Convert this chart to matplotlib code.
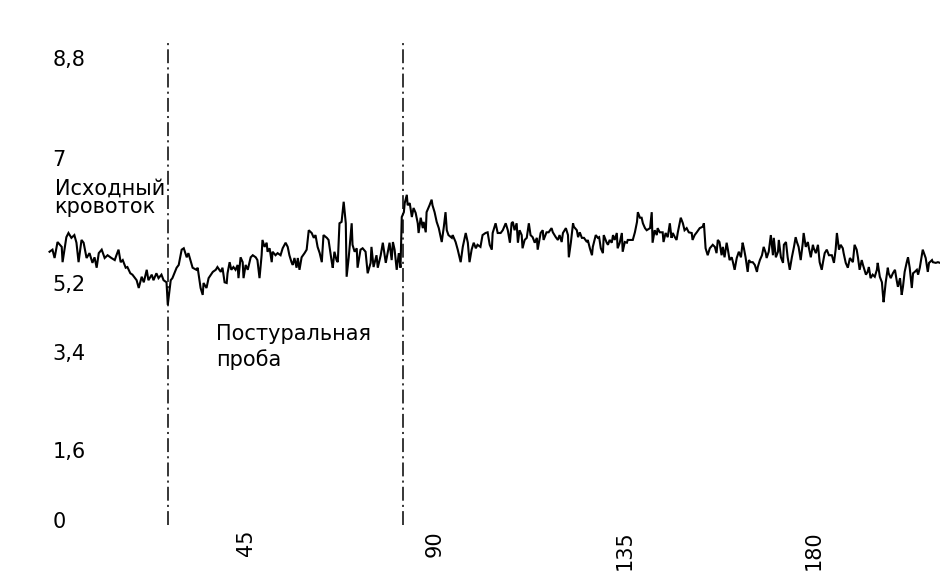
import numpy as np
import matplotlib
matplotlib.use("Agg")
import matplotlib.pyplot as plt
from matplotlib.ticker import FixedLocator, FixedFormatter

# Blood-flow trace: time (s) and flow values
time_s = [
    -1.6, -0.9, -0.4, 0.3, 1.3, 1.5, 2.4, 2.9, 3.6, 4.3, 4.8, 5.3, 6.0, 6.5, 7.2, 7.9,
    8.6, 9.1, 9.6, 10.1, 10.8, 11.5, 12.2, 13.1, 13.9, 14.3, 14.8, 15.3, 15.8, 16.5,
    16.9, 17.6, 18.1, 19.1, 19.6, 20.3, 20.8, 21.5, 21.9, 22.7, 23.1, 23.8, 24.3, 25.0,
    25.5, 26.2, 26.5, 27.2, 27.6, 28.6, 29.1, 29.8, 30.3, 31.0, 31.4, 32.4, 33.3, 33.6,
    34.3, 34.8, 35.0, 35.7, 36.2, 37.2, 37.9, 38.3, 39.1, 39.5, 40.0, 40.5, 40.7, 41.2,
    41.6, 42.1, 42.6, 43.1, 43.3, 43.8, 44.3, 44.5, 45.0, 45.5, 46.2, 46.7, 47.4, 47.8,
    48.3, 48.8, 49.0, 49.5, 50.0, 50.2, 50.7, 51.2, 51.4, 52.1, 52.6, 53.3, 53.8, 54.5,
    55.0, 55.4, 55.9, 56.2, 56.6, 57.1, 57.4, 57.8, 58.3, 59.0, 59.5, 60.0, 60.7, 61.2,
    61.6, 62.1, 62.6, 63.1, 63.5, 64.3, 64.7, 65.4, 65.7, 66.1, 66.6, 66.9, 67.3, 67.8,
    68.3, 68.8, 69.0, 69.5, 70.2, 70.4, 70.9, 71.4, 71.6, 72.3, 72.8, 73.5, 74.0, 74.7,
    74.9, 75.4, 76.1, 76.4, 77.1, 77.6, 78.3, 78.8, 79.2, 79.7, 80.0, 80.4, 80.9, 81.4,
    81.8, 82.1, 82.6, 82.8, 83.3, 83.5, 84.0, 84.5, 84.9, 85.4, 85.9, 86.1, 86.6, 87.1,
    87.3, 87.8, 88.0, 88.7, 89.2, 89.4, 89.9, 90.4, 90.9, 91.6, 92.1, 92.5, 92.8, 93.2,
    94.0, 94.2, 94.9, 95.4, 96.1, 96.6, 97.3, 97.8, 98.2, 98.7, 99.2, 99.7, 100.1, 100.8,
    101.3, 102.0, 102.5, 103.0, 103.5, 103.7, 104.4, 104.9, 105.6, 106.1, 106.8, 107.3,
    107.8, 108.2, 108.5, 108.9, 109.4, 109.7, 110.1, 110.6, 110.8, 111.3, 111.8, 112.3,
    112.7, 113.2, 113.7, 114.2, 114.4, 115.1, 115.6, 115.8, 116.5, 117.0, 117.7, 118.0,
    118.7, 119.2, 119.6, 120.1, 120.4, 121.1, 121.6, 121.8, 122.3, 122.8, 123.0, 123.7,
    124.0, 124.4, 124.9, 125.4, 126.1, 126.3, 126.8, 127.3, 127.5, 128.2, 128.7, 129.0,
    129.4, 129.9, 130.1, 130.8, 131.1, 131.5, 132.0, 132.3, 132.7, 133.2, 133.4, 133.9,
    134.4, 134.6, 135.1, 135.6, 135.8, 136.3, 137.0, 137.5, 138.0, 138.2, 138.7, 139.1,
    139.4, 139.9, 140.3, 141.1, 141.5, 141.7, 142.2, 142.7, 142.9, 143.4, 144.1, 144.3,
    144.8, 145.3, 145.8, 146.2, 146.5, 147.0, 147.4, 147.7, 148.4, 148.9, 149.3, 149.8,
    150.3, 151.0, 151.2, 151.7, 152.2, 152.9, 153.6, 153.9, 154.3, 154.8, 155.3, 156.0,
    156.5, 156.9, 157.2, 157.6, 158.1, 158.4, 158.8, 159.3, 159.6, 160.0, 160.5, 160.8,
    161.2, 161.7, 162.2, 162.7, 163.1, 163.4, 163.8, 164.3, 164.6, 165.0, 165.5, 166.0,
    166.5, 166.7, 167.2, 167.7, 168.1, 168.6, 168.8, 169.3, 169.8, 170.3, 170.5, 171.0,
    171.5, 171.7, 172.2, 172.7, 172.9, 173.4, 173.8, 174.3, 174.8, 175.3, 175.7, 176.0,
    176.4, 176.9, 177.4, 177.6, 178.1, 178.6, 178.8, 179.3, 179.8, 180.0, 180.5, 181.0,
    181.4, 181.9, 182.2, 182.6, 183.1, 183.6, 184.3, 184.8, 185.2, 185.5, 186.0, 186.4,
    186.9, 187.1, 187.6, 188.1, 188.6, 189.3, 189.7, 190.2, 190.5, 190.9, 191.4, 191.7,
    192.4, 192.8, 193.1, 193.5, 194.0, 194.5, 195.0, 195.2, 195.7, 196.2, 196.4, 196.6,
    197.1, 197.6, 197.8, 198.3, 198.8, 199.3, 199.7, 200.0, 200.5, 200.9, 201.2, 201.6,
    202.1, 202.4, 202.8, 203.3, 203.6, 204.0, 204.5, 204.8, 205.2, 205.9, 206.2, 206.6,
    207.1, 207.4, 208.1, 208.3, 209.0, 209.5, 210.0,
]
flow = [
    5.65, 5.68, 5.56, 5.79, 5.72, 5.50, 5.86, 5.92, 5.85, 5.89, 5.78, 5.50, 5.82, 5.78, 5.56, 5.63,
    5.49, 5.57, 5.42, 5.63, 5.68, 5.56, 5.60, 5.56, 5.53, 5.60, 5.68, 5.50, 5.53, 5.42,
    5.43, 5.34, 5.32, 5.24, 5.07, 5.29, 5.21, 5.39, 5.24, 5.32, 5.24, 5.34, 5.27, 5.32,
    5.24, 5.21, 4.63, 5.24, 5.27, 5.42, 5.46, 5.68, 5.70, 5.57, 5.63, 5.42, 5.39, 5.42,
    5.07, 4.89, 5.20, 5.07, 5.27, 5.36, 5.39, 5.43, 5.36, 5.42, 5.21, 5.20, 5.34, 5.50,
    5.39, 5.43, 5.39, 5.46, 5.27, 5.57, 5.50, 5.27, 5.46, 5.39, 5.57, 5.60, 5.57, 5.53,
    5.27, 5.60, 5.82, 5.72, 5.78, 5.65, 5.70, 5.50, 5.65, 5.60, 5.63, 5.60, 5.70, 5.78,
    5.72, 5.60, 5.50, 5.46, 5.56, 5.42, 5.56, 5.39, 5.57, 5.63, 5.68, 5.96, 5.92, 5.85,
    5.89, 5.72, 5.63, 5.50, 5.89, 5.85, 5.82, 5.53, 5.42, 5.65, 5.53, 5.50, 6.06, 6.08,
    6.37, 6.06, 5.29, 5.57, 6.06, 5.75, 5.65, 5.70, 5.42, 5.68, 5.70, 5.65, 5.34, 5.49,
    5.72, 5.43, 5.60, 5.42, 5.60, 5.78, 5.49, 5.65, 5.78, 5.53, 5.79, 5.68, 5.39, 5.63,
    5.42, 6.15, 6.22, 6.35, 6.47, 6.32, 6.35, 6.15, 6.28, 6.21, 6.06, 5.92, 6.14, 5.99,
    6.08, 5.93, 6.22, 6.32, 6.40, 6.32, 6.22, 6.08, 5.99, 5.79, 6.01, 6.22, 5.96, 5.89,
    5.85, 5.89, 5.79, 5.68, 5.50, 5.72, 5.92, 5.78, 5.50, 5.68, 5.78, 5.70, 5.75, 5.72,
    5.89, 5.92, 5.93, 5.75, 5.68, 5.92, 6.06, 5.92, 5.92, 5.96, 6.06, 5.96,
    5.78, 6.06, 6.08, 5.96, 6.06, 5.78, 5.96, 5.89, 5.70, 5.82, 5.85, 6.06,
    5.89, 5.86, 5.78, 5.85, 5.68, 5.92, 5.96, 5.82, 5.93, 5.93, 5.99, 5.93,
    5.86, 5.82, 5.89, 5.79, 5.92, 5.99, 5.89, 5.57, 5.79, 6.06, 6.01, 5.96,
    5.86, 5.93, 5.85, 5.85, 5.79, 5.82, 5.70, 5.60, 5.72, 5.89, 5.85, 5.86,
    5.70, 5.63, 5.89, 5.78, 5.75, 5.82, 5.78, 5.89, 5.82, 5.92, 5.70, 5.78,
    5.92, 5.65, 5.79, 5.78, 5.82, 5.82, 5.82, 5.93, 6.08, 6.22, 6.14, 6.14,
    6.06, 5.99, 5.96, 5.99, 6.22, 5.78, 5.96, 5.89, 5.99, 5.93, 5.93, 5.79,
    5.92, 5.86, 6.06, 5.85, 5.92, 5.86, 5.82, 5.93, 6.14, 6.06, 5.96, 5.99,
    5.93, 5.92, 5.82, 5.89, 5.93, 5.99, 6.01, 6.06, 5.70, 5.60, 5.70, 5.75,
    5.72, 5.63, 5.82, 5.79, 5.60, 5.72, 5.57, 5.78, 5.68, 5.53, 5.57, 5.50,
    5.39, 5.56, 5.65, 5.57, 5.78, 5.70, 5.57, 5.36, 5.53, 5.50, 5.50, 5.46,
    5.36, 5.43, 5.53, 5.60, 5.72, 5.63, 5.56, 5.65, 5.89, 5.60, 5.85, 5.57,
    5.65, 5.82, 5.57, 5.49, 5.75, 5.79, 5.57, 5.39, 5.57, 5.72, 5.86, 5.79,
    5.72, 5.53, 5.78, 5.92, 5.72, 5.79, 5.72, 5.57, 5.75, 5.70, 5.63, 5.75,
    5.50, 5.39, 5.50, 5.63, 5.68, 5.60, 5.60, 5.49, 5.68, 5.92, 5.68, 5.75,
    5.70, 5.63, 5.49, 5.42, 5.56, 5.50, 5.75, 5.68, 5.57, 5.39, 5.53, 5.46,
    5.32, 5.36, 5.43, 5.27, 5.32, 5.29, 5.39, 5.49, 5.29, 5.21, 4.94, 4.70,
    5.21, 5.42, 5.34, 5.27, 5.34, 5.39, 5.24, 5.10, 5.27, 4.89, 5.10, 5.36,
    5.50, 5.57, 5.42, 5.07, 5.34, 5.36, 5.39, 5.32, 5.42, 5.68, 5.63, 5.56,
    5.36, 5.49, 5.53, 5.50, 5.49, 5.50, 5.49,
]

# Boundaries between the recording phases (s)
phase_marks_s = [26.5, 82.5]

y_ticks = [0, 1.6, 3.4, 5.2, 7, 8.8]
y_tick_labels = ["0", "1,6", "3,4", "5,2", "7", "8,8"]
x_ticks = [45, 90, 135, 180]
x_tick_labels = ["45", "90", "135", "180"]

# The printed value axis is not evenly graduated: build a piecewise-linear
# scale through the labelled graduations.
_knot_vals = np.array([-1.6, 0.0, 1.6, 3.4, 5.2, 7.0, 8.8, 10.6])
_knot_pos = np.array([-70.0, 0.0, 70.0, 168.0, 237.0, 362.0, 462.0, 562.0])


def _fwd(v):
    return np.interp(v, _knot_vals, _knot_pos)


def _inv(p):
    return np.interp(p, _knot_pos, _knot_vals)


plt.rcParams["font.family"] = ["DejaVu Sans"]
plt.rcParams["lines.scale_dashes"] = False

FS = 15

fig = plt.figure(figsize=(9.4, 5.71), dpi=100)
ax = fig.add_axes([47 / 940, 41 / 571, 893 / 940, 495 / 571])
ax.set_yscale("function", functions=(_fwd, _inv))

ax.plot(time_s, flow, color="black", lw=1.5, solid_joinstyle="miter")

for xm in phase_marks_s:
    ax.axvline(xm, ymin=0.01, ymax=0.99, color="black", lw=1.1,
               dashes=(10, 3, 1.5, 3))

ax.set_xlim(-2.2, 210.0)
ax.set_ylim(_inv(-10.0), _inv(485.0))

ax.yaxis.set_major_locator(FixedLocator(y_ticks))
ax.yaxis.set_major_formatter(FixedFormatter(y_tick_labels))
ax.xaxis.set_major_locator(FixedLocator(x_ticks))
ax.xaxis.set_major_formatter(FixedFormatter(x_tick_labels))
ax.yaxis.set_minor_locator(FixedLocator([]))

ax.tick_params(axis="y", length=0, pad=-4.0, labelsize=FS)
ax.tick_params(axis="x", length=0, pad=0, labelsize=FS, labelrotation=90)
for lab in ax.get_yticklabels():
    lab.set_horizontalalignment("left")

for side in ("left", "right", "top", "bottom"):
    ax.spines[side].set_visible(False)

ax.text(-0.4, 6.70, "Исходный\nкровоток", fontsize=FS, ha="left", va="top",
        linespacing=0.9)
ax.text(37.9, 4.14, "Постуральная\nпроба", fontsize=FS, ha="left", va="top",
        linespacing=1.3)

fig.savefig("out.png", dpi=100, facecolor="white")
